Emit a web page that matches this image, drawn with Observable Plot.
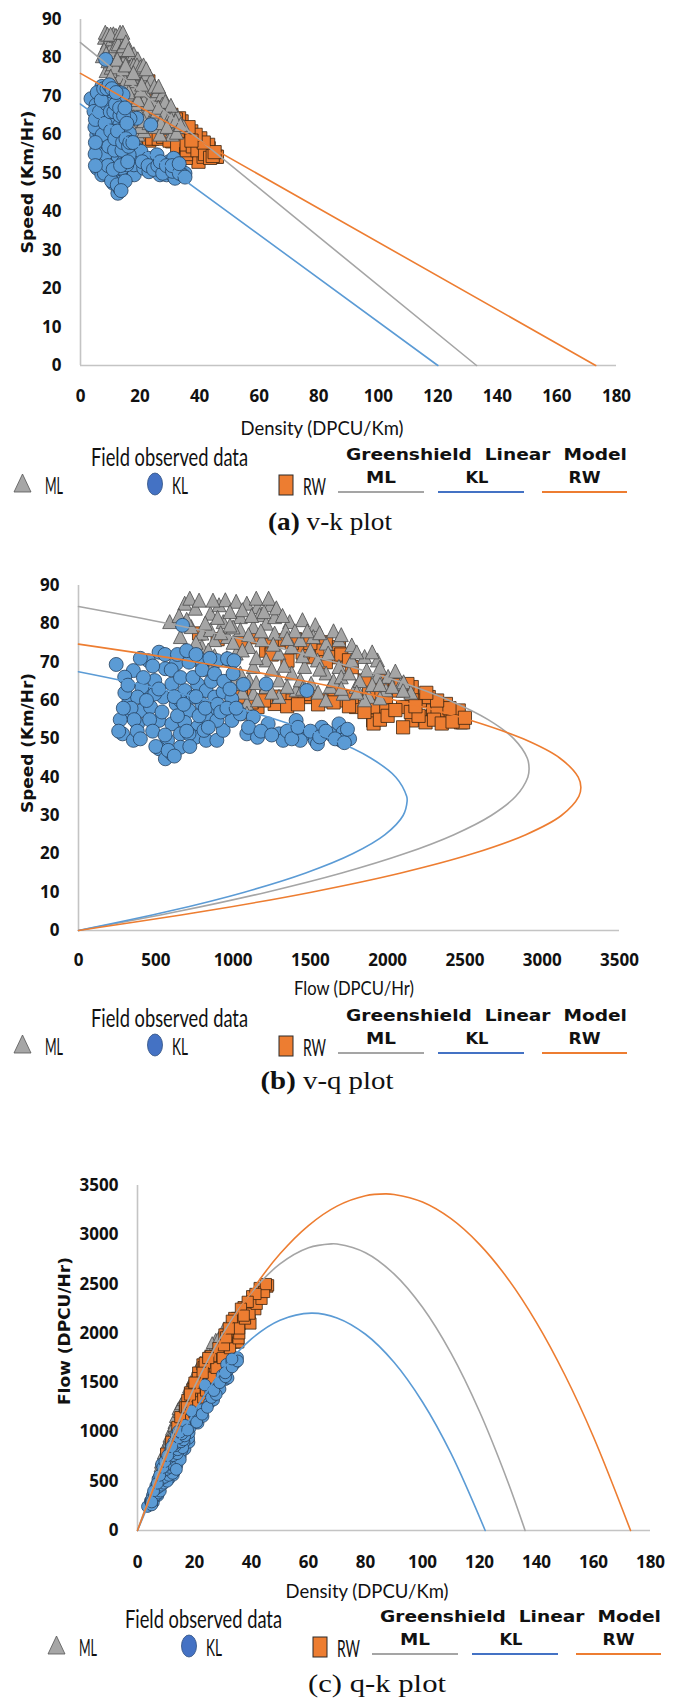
<!DOCTYPE html>
<html><head><meta charset="utf-8">
<script src="https://cdn.jsdelivr.net/npm/d3@7"></script>
<script src="https://cdn.jsdelivr.net/npm/@observablehq/plot@0.6"></script>
<style>
html,body{margin:0;padding:0;background:#fff;}
#root{position:relative;width:674px;height:1698px;overflow:hidden;background:#fff;}
#root > svg{position:absolute;left:0;}
</style></head>
<body><div id="root"></div>
<script>
// ---------------- field observed data (flow q in DPCU/Hr, speed v in Km/Hr) ----------------
const klQ = [244,673,521,452,355,299,327,313,285,355,382,410,452,493,562,632,715,798,895,964,1006,604,687,770,826,881,936,992,798,715,632,549,466,521,604,687,770,659,576,521,562,604,659,756,826,895,936,992,1047,1131,1089,1158,1227,1214,1297,1324,1408,1463,1435,1477,1532,1574,1546,1629,1685,1712,1754,1698,1067,410,493,382,659,743,881,826,715,812,895,
  300,320,340,360,380,400,420,440,460,480,500,520,540,560,580,600,620,640,660,680,700,720,740,760,780,800,820,840,860,880,900,920,940,960,980,1000,1020,400,480,560,640,700,760,850,270,260,290,620,1100,1180,1250,1350,1380,1420,1500,1560,1600,1660,1720,1740];
const klV = [69.4,79.6,72.6,70.4,67.8,66.1,60,56.5,51.3,49.6,53.9,57.4,62.2,65.2,68.3,69.6,70,70.4,70.4,70.9,70.4,64.3,62.6,64.3,62.6,60.9,62.2,60.4,59.1,57.4,59.1,60.9,58.3,54.8,53.9,54.3,53,51.3,49.6,47.4,44.8,46.1,47.8,50.4,49.6,49.6,52.2,54.8,56.5,55.7,51.3,50.4,53.9,64.3,51.3,49.6,54.8,51.3,49.6,62.6,49.6,53,48.7,51.3,53.9,51.7,50,49.6,64.2,63.5,61.7,60.9,60,60.9,56.5,55.7,51.3,52.2,54.8,
  62,64,58,55,52,50,66,60,55,52,48,63,57,51,47,68,61,56,66,59,52,48,66,61,56,68,58,53,65,67,59,57,65,58,63,67,58,71,69,72,72,73,72,71,55,52,58,45.5,53,52,51,52,50,53,52,50.5,52,50,49,52.5];

const mlQ = [590,687,756,659,729,798,853,909,950,1020,1089,1158,1241,1172,1047,936,853,798,881,964,1047,1131,1214,1269,1366,1449,1532,1269,1186,1103,1020,936,909,964,1047,1131,1214,1297,1380,1435,1519,1602,1685,1768,1615,1546,1463,1380,1297,1214,1131,1089,1158,1297,1408,1505,1602,1685,1768,1851,1934,1865,1934,2003,2087,1989,1878,1796,1712,1629,1851,1435,1006,1103,1089,2103,2150,
  650,700,720,780,820,870,900,980,1000,1060,1120,1150,1200,1230,1280,1320,1340,1400,1480,1560,1650,1700,1800,1900,1950,2050,1000,1060,1150,1250,1330,1450,1500,1560,1650,1700,1750,1820,1900,1950,2030,1000,960,880,840,920,980,1100,1180,1260,1350,1000,1060,1150,1250,1350,1450,1550,1600,1700,1800,1950,2100,850,800,760];
const mlV = [80.4,85.2,83.9,76.5,79.1,77.4,82.6,84.8,86.1,85.7,85.2,84.3,84.8,82.2,81.7,80.4,78.3,73.9,75.7,76.5,78.3,79.1,80,81.7,80.4,80.9,79.6,77.4,75.7,73.9,72.2,70.4,66.1,65.2,67,68.7,70.4,72.2,73.9,75.7,76.5,74.8,75.7,74.3,72.2,70.4,68.7,67,65.2,63.5,61.7,59.1,60,60.9,62.6,64.3,67,68.7,70.4,71.3,70.4,67.8,66.1,66.1,64.3,62.6,60.9,63.5,61.7,63.5,60,65.2,64.3,65.2,56.5,64.7,62,
  82,81,86.5,86,80,86,81.5,83,79,83.5,82,86.5,83,86.5,84,82,78,78,78,77.5,78,77,72.5,72.5,68.5,67.5,75,73,71,68,69,71.5,73,68,65,66,67,65,64,64,63.5,68,71,71.5,73,77.5,79.5,77,78,74.5,76,60.5,62,64.5,62,63.5,63,62,60,63,62,60.5,62.5,68,70.5,75];

const rwQ = [2474,2377,2266,2156,2100,2211,2156,2294,2433,1989,1906,1906,1796,1712,1602,1491,1380,1269,1158,1047,992,1075,1214,1463,1657,1768,1989,2073,2156,1602,1685,1546,1435,1324,1214,1352,1491,1657,1768,1851,1989,2128,2266,2377,2460,2488,2100,1909,2245,2323,780,900,1050,1150,1250,1400,
  1050,1120,1200,1300,1350,1420,1550,1650,1750,1850,1950,2000,2050,2150,2200,2300,2350,2420,2500,2400,2320,2250,2180,1880,1960,2050,1700,1750,1600,1450,1380,1250,1500];
const rwV = [54.3,55.7,55.7,54.8,58.3,60,61.7,57.4,56.5,57.4,54.8,58.3,58.3,60,60,60.9,60,59.1,58.3,59.1,60.9,61.7,60.9,61.7,62.6,60.9,60.9,62.6,63.5,75.2,73.9,73,73.9,75.7,73,70.4,71.3,71.3,68.7,65.2,65.2,64.3,60.9,59.1,57.4,54.3,53,54,54.3,57.4,77.5,76,75,76.5,74.5,76,
  61,59.5,60,61,58.5,59,59,59.5,58.5,57,55,56,57.5,57,56,55,54,54.5,55.5,58,60,62,58.5,62,63,64,72,70.5,70,72.5,75,72,75];

// ---------------- Greenshield linear model ----------------
// v-k straight lines (density, speed)
const mlFitK = [0, 133], mlFitV = [84, 0];
const klFitK = [0, 120], klFitV = [68, 0];
const rwFitK = [0, 173], rwFitV = [76, 0];
// v-q curves (speed, flow)
const mlVqV = [0,5,10,15,20,25,30,35,40,42.25,45,50,55,60,65,70,75,80,84.5];
const mlVqQ = [0,649,1217,1703,2107,2429,2670,2829,2907,2915,2903,2817,2650,2400,2070,1658,1163,588,0];
const klVqV = [0,5,10,15,20,25,30,33.75,35,40,45,50,55,60,65,67.5];
const klVqQ = [0,583,1073,1470,1773,1983,2100,2126,2123,2053,1890,1633,1283,840,303,0];
const rwVqV = [0,5,10,15,20,25,30,35,37.35,40,45,50,55,60,65,70,74.7];
const rwVqQ = [0,812,1507,2086,2548,2894,3124,3237,3250,3233,3113,2877,2524,2055,1469,766,0];
// q-k curves (density, flow)
const mlQkK = [0,10,20,30,40,50,60,68,70,80,90,100,110,120,130,136];
const mlQkQ = [0,792,1459,2000,2415,2704,2868,2908,2906,2818,2603,2264,1799,1207,490,0];
const klQkK = [0,10,20,30,40,50,61,70,80,90,100,110,122];
const klQkQ = [0,664,1209,1635,1944,2133,2205,2157,1991,1707,1304,782,0];
const rwQkK = [0,10,20,30,40,50,60,70,80,87,90,100,110,120,130,140,150,160,173];
const rwQkQ = [0,744,1397,1958,2428,2807,3094,3291,3396,3415,3409,3332,3163,2903,2552,2109,1575,949,0];

// ---------------- ticks ----------------
const densityTicks = [0,20,40,60,80,100,120,140,160,180];
const speedTicks = [0,10,20,30,40,50,60,70,80,90];
const flowTicks = [0,500,1000,1500,2000,2500,3000,3500];

// ---------------- colours ----------------
const C_ML = "#a5a5a5", C_KL = "#5b9bd5", C_RW = "#ed7d31";

// ---------------- tables ----------------
const obs = (Q, V) => Q.map((q, i) => ({q, v: V[i], k: q / V[i]}));
const mlObs = obs(mlQ, mlV), klObs = obs(klQ, klV), rwObs = obs(rwQ, rwV);
const pairs = (X, Y) => X.map((x, i) => ({x, y: Y[i]}));

// custom symbols
const triSym = {draw(ctx, size){ const r = Math.sqrt(size/Math.PI); ctx.moveTo(0,-r*1.1); ctx.lineTo(r, r*0.9); ctx.lineTo(-r, r*0.9); ctx.closePath(); }};
const sqSym = {draw(ctx, size){ const r = Math.sqrt(size/Math.PI); ctx.rect(-r,-r,2*r,2*r); }};

const root = document.getElementById("root");

function panel({top, height, ml, mr, mt, mb, xd, yd, xt, yt, xKey, yKey, fits, order, padX, s}) {
  const layers = {
    ml: Plot.dot(mlObs, {x: xKey, y: yKey, r: 7 * s, symbol: triSym, fill: C_ML, stroke: "#4a4a4a", strokeWidth: 0.8}),
    kl: Plot.dot(klObs, {x: xKey, y: yKey, r: 7 * s, symbol: "circle", fill: C_KL, stroke: "#24405e", strokeWidth: 0.8}),
    rw: Plot.dot(rwObs, {x: xKey, y: yKey, r: 6.6 * s, symbol: sqSym, fill: C_RW, stroke: "#3a2412", strokeWidth: 0.8})
  };
  const marks = [
    Plot.ruleX([xd[0]], {stroke: "#c4c4c4", strokeWidth: 1.6}),
    Plot.ruleY([yd[0]], {stroke: "#c4c4c4", strokeWidth: 1.6}),
    ...order.map(o => layers[o]),
    ...fits.map(f => Plot.line(f.data, {x: "x", y: "y", stroke: f.color, strokeWidth: 1.6, curve: f.curve || "linear"})),
    Plot.axisX({ticks: xt, tickSize: 0, tickPadding: padX, label: null, tickFormat: d => String(d)}),
    Plot.axisY({ticks: yt, tickSize: 0, tickPadding: 19, label: null, tickFormat: d => String(d)})
  ];
  const svg = Plot.plot({
    width: 674, height, marginLeft: ml, marginRight: mr, marginTop: mt, marginBottom: mb,
    x: {domain: xd}, y: {domain: yd},
    style: {fontFamily: "'Open Sans', 'Liberation Sans', sans-serif", fontSize: "17px", fontWeight: "700", color: "#111", background: "transparent", overflow: "visible"},
    marks
  });
  svg.style.top = top + "px";
  svg.style.position = "absolute";
  root.appendChild(svg);
}

// (a) v-k
panel({top: 0, height: 410, ml: 80, mr: 58, mt: 19, mb: 45, xd: [0,180], yd: [0,90], xt: densityTicks, yt: speedTicks,
  xKey: "k", yKey: "v", padX: 24, s: 1, order: ["rw","ml","kl"],
  fits: [
    {data: pairs(mlFitK, mlFitV), color: C_ML},
    {data: pairs(klFitK, klFitV), color: C_KL},
    {data: pairs(rwFitK, rwFitV), color: C_RW}
  ]});
// (b) v-q
panel({top: 560, height: 420, ml: 78, mr: 55, mt: 25, mb: 50, xd: [0,3500], yd: [0,90], xt: flowTicks, yt: speedTicks,
  xKey: "q", yKey: "v", padX: 23, s: 1, order: ["rw","ml","kl"],
  fits: [
    {data: pairs(mlVqQ, mlVqV), color: C_ML, curve: "catmull-rom"},
    {data: pairs(klVqQ, klVqV), color: C_KL, curve: "catmull-rom"},
    {data: pairs(rwVqQ, rwVqV), color: C_RW, curve: "catmull-rom"}
  ]});
// (c) q-k
panel({top: 1160, height: 420, ml: 137, mr: 24, mt: 25, mb: 50, xd: [0,180], yd: [0,3500], xt: densityTicks, yt: flowTicks,
  xKey: "k", yKey: "q", padX: 25, s: 0.85, order: ["ml","rw","kl"],
  fits: [
    {data: pairs(mlQkK, mlQkQ), color: C_ML, curve: "catmull-rom"},
    {data: pairs(klQkK, klQkQ), color: C_KL, curve: "catmull-rom"},
    {data: pairs(rwQkK, rwQkQ), color: C_RW, curve: "catmull-rom"}
  ]});

// ---------------- titles, legends, captions ----------------
const ov = d3.select(root).append("svg").attr("width", 674).attr("height", 1698)
  .style("position", "absolute").style("top", "0px").style("left", "0px").style("pointer-events", "none");

function txt(s, x, y, o) {
  const t = ov.append("text").attr("x", x).attr("y", y)
    .attr("text-anchor", o.anchor || "middle").attr("dominant-baseline", "central")
    .attr("font-family", o.family).attr("font-size", o.size).attr("font-weight", o.weight || 400)
    .attr("fill", o.fill || "#111");
  if (o.len) t.attr("textLength", o.len).attr("lengthAdjust", "spacingAndGlyphs");
  if (o.rotate) t.attr("transform", `rotate(${o.rotate},${x},${y})`);
  t.text(s);
  return t;
}
const SANSB = "'DejaVu Sans', Verdana, sans-serif";
const CAL = "Lato, 'Open Sans', sans-serif";
const SERIF = "'Liberation Serif', 'Times New Roman', serif";

// axis titles
txt("Speed (Km/Hr)", 27, 182, {family: SANSB, size: 16, weight: 700, len: 143, rotate: -90});
txt("Density (DPCU/Km)", 322, 427, {family: CAL, size: 19, len: 163});
txt("Speed (Km/Hr)", 27, 743, {family: SANSB, size: 16, weight: 700, len: 140, rotate: -90});
txt("Flow (DPCU/Hr)", 354, 987, {family: CAL, size: 19, len: 120});
txt("Flow (DPCU/Hr)", 64, 1331, {family: SANSB, size: 16, weight: 700, len: 148, rotate: -90});
txt("Density (DPCU/Km)", 367, 1590, {family: CAL, size: 19, len: 163});

function legend(dx, dy, letter, rest, boldLetter, capX, capY, capLen) {
  txt("Field observed data", 91 + dx, 456 + dy, {family: CAL, size: 25, len: 157, anchor: "start"});
  ov.append("path").attr("d", `M${22.5+dx},${474+dy}L${31+dx},${492+dy}L${14+dx},${492+dy}Z`)
    .attr("fill", "#a6a6a6").attr("stroke", "#555").attr("stroke-width", 0.8);
  txt("ML", 45 + dx, 484 + dy, {family: CAL, size: 24, len: 18, anchor: "start"});
  ov.append("ellipse").attr("cx", 155 + dx).attr("cy", 484 + dy).attr("rx", 7.5).attr("ry", 11)
    .attr("fill", "#4472c4").attr("stroke", "#2f4f80").attr("stroke-width", 0.8);
  txt("KL", 172 + dx, 484 + dy, {family: CAL, size: 24, len: 16, anchor: "start"});
  ov.append("rect").attr("x", 279 + dx).attr("y", 475 + dy).attr("width", 14).attr("height", 20)
    .attr("fill", "#ed7d31").attr("stroke", "#2b2b2b").attr("stroke-width", 1);
  txt("RW", 303 + dx, 485 + dy, {family: CAL, size: 24, len: 23, anchor: "start"});
  txt("Greenshield\u00A0\u00A0Linear\u00A0\u00A0Model", 346 + dx, 454 + dy, {family: SANSB, size: 16, weight: 700, len: 281, anchor: "start"});
  const lines = [["ML", 338, 424, "#a5a5a5", 30, 0], ["KL", 438, 524, "#4472c4", 23, -4], ["RW", 542, 627, "#ed7d31", 32, 0]];
  for (const [lab, x0, x1, col, w, off] of lines) {
    ov.append("line").attr("x1", x0 + dx).attr("x2", x1 + dx).attr("y1", 492 + dy).attr("y2", 492 + dy)
      .attr("stroke", col).attr("stroke-width", 2);
    txt(lab, (x0 + x1) / 2 + dx + off, 477 + dy, {family: SANSB, size: 16, weight: 700, len: w});
  }
  const t = ov.append("text").attr("x", capX).attr("y", capY).attr("text-anchor", "middle")
    .attr("dominant-baseline", "central").attr("font-family", SERIF).attr("font-size", 26).attr("fill", "#111")
    .attr("textLength", capLen).attr("lengthAdjust", "spacingAndGlyphs");
  t.append("tspan").attr("font-weight", boldLetter ? 700 : 400).text(letter);
  t.append("tspan").text(rest);
}
legend(0, 0, "(a)", " v-k plot", true, 330, 521, 124);
legend(0, 561, "(b)", " v-q plot", true, 327, 1080, 133);
legend(34, 1162, "(c)", " q-k plot", false, 377, 1683, 138);
</script>
</body></html>
